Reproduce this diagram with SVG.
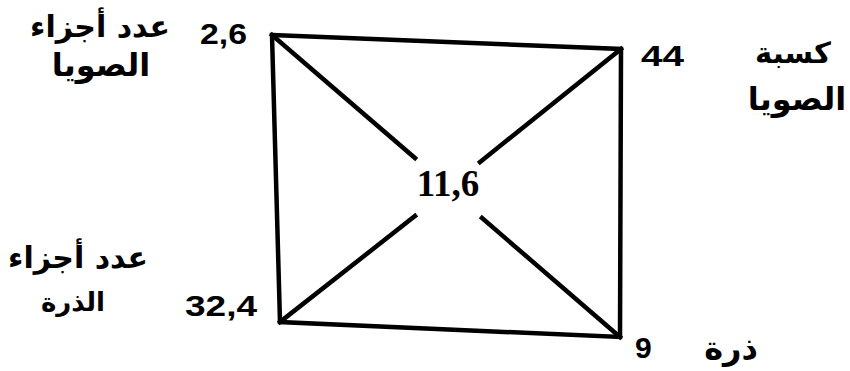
<svg xmlns="http://www.w3.org/2000/svg" width="850" height="371" viewBox="0 0 850 371">
<style>
.ln{stroke:#000;stroke-width:4.5;fill:none;stroke-linecap:square;stroke-linejoin:miter}
.num{font-family:"Liberation Sans",Arial,sans-serif;font-weight:bold;font-size:30px;fill:#000}
.ar{font-family:"DejaVu Sans","Noto Sans",sans-serif;font-weight:bold;font-size:30px;fill:#000;text-anchor:middle}
.ctr{font-family:"Liberation Serif","Times New Roman",serif;font-weight:bold;font-size:37px;fill:#000;text-anchor:middle}
</style>
<rect width="850" height="371" fill="#fff"/>
<g id="connectors">
<polygon class="ln" points="272,35 621,49 620,337 280,322"/>
<line class="ln" x1="272" y1="35" x2="415" y2="158"/>
<line class="ln" x1="482" y1="218" x2="620" y2="337"/>
<line class="ln" x1="621" y1="49" x2="480" y2="162"/>
<line class="ln" x1="415" y1="216" x2="280" y2="322"/>
</g>
<g id="node-soy-parts">
<text class="num" x="200" y="44" textLength="47" lengthAdjust="spacingAndGlyphs">2,6</text>
<text class="ar" x="100" y="37">عدد أجزاء</text>
<text class="ar" x="101" y="76" style="font-size:32px">الصويا</text>
</g>
<g id="node-soy-meal">
<text class="num" x="641" y="66" textLength="43" lengthAdjust="spacingAndGlyphs">44</text>
<text class="ar" x="793" y="63" style="font-size:29px">كسبة</text>
<text class="ar" x="797" y="110" style="font-size:32px">الصويا</text>
</g>
<g id="node-center">
<text class="ctr" x="448" y="196">11,6</text>
</g>
<g id="node-corn-parts">
<text class="num" x="185" y="316" textLength="72" lengthAdjust="spacingAndGlyphs">32,4</text>
<text class="ar" x="78" y="268">عدد أجزاء</text>
<text class="ar" x="73" y="311" style="font-size:26px">الذرة</text>
</g>
<g id="node-corn">
<text class="num" x="635" y="358">9</text>
<text class="ar" x="731" y="359" style="font-size:32px">ذرة</text>
</g>
</svg>
